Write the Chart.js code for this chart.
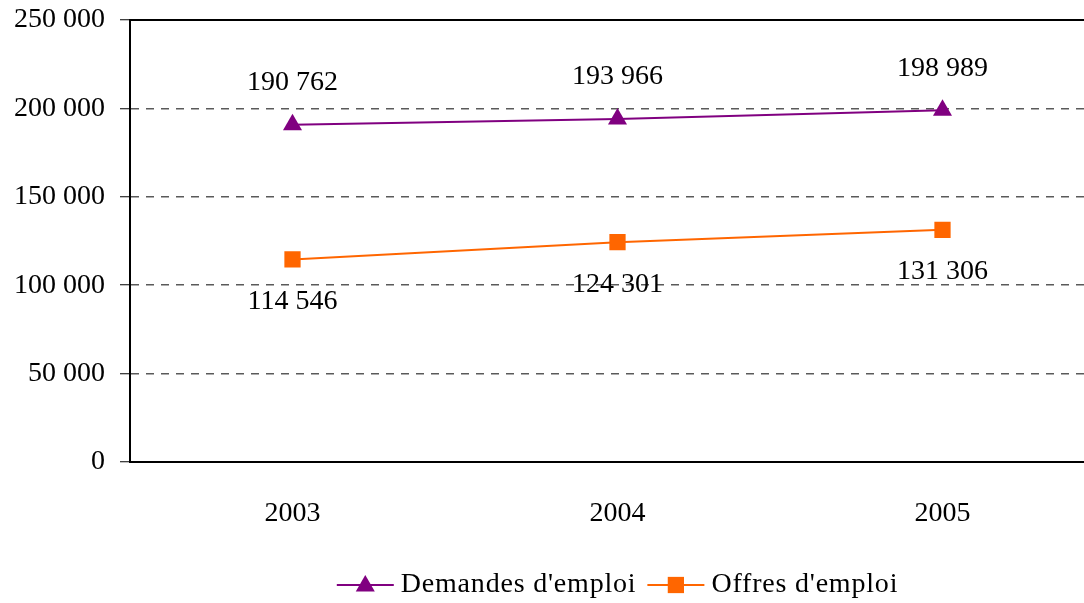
<!DOCTYPE html>
<html>
<head>
<meta charset="utf-8">
<script src="https://cdn.jsdelivr.net/npm/chart.js@4/dist/chart.umd.min.js"></script>
<style>
html,body{margin:0;padding:0;overflow:hidden;background:#fff;}
#wrap{width:1236px;height:603px;}
</style>
</head>
<body>
<div id="wrap"><canvas id="c" width="1236" height="603"></canvas></div>
<script>
const categories = ['2003', '2004', '2005'];
const demandes = [190762, 193966, 198989];
const offres = [114546, 124301, 131306];
const seriesNames = ["Demandes d'emploi", "Offres d'emploi"];
const yTicks = [0, 50000, 100000, 150000, 200000, 250000];

const FONT = '"Liberation Serif", "Times New Roman", serif';
const FS = 28;
const PURPLE = '#800080';
const ORANGE = '#FF6600';

function fmt(v) {
  return String(Math.round(v)).replace(/\B(?=(\d{3})+(?!\d))/g, ' ');
}

const labelPlugin = {
  id: 'valueLabels',
  afterDatasetsDraw(chart) {
    const ctx = chart.ctx;
    ctx.save();
    ctx.font = FS + 'px ' + FONT;
    ctx.fillStyle = '#000';
    ctx.textAlign = 'center';
    ctx.textBaseline = 'middle';
    chart.data.datasets.forEach((ds, i) => {
      const meta = chart.getDatasetMeta(i);
      meta.data.forEach((pt, j) => {
        const off = i === 0 ? -42 : 42;
        ctx.fillText(fmt(ds.data[j]), pt.x, pt.y + off);
      });
    });
    ctx.restore();
  }
};

const framePlugin = {
  id: 'frame',
  afterDraw(chart) {
    const ctx = chart.ctx;
    const a = chart.chartArea;
    ctx.save();
    ctx.strokeStyle = '#000';
    ctx.lineWidth = 2;
    ctx.beginPath();
    ctx.moveTo(a.left - 1, a.top);
    ctx.lineTo(a.right, a.top);
    ctx.stroke();
    ctx.restore();

    // legend
    ctx.save();
    ctx.font = FS + 'px ' + FONT;
    if ('letterSpacing' in ctx) ctx.letterSpacing = '0.8px';
    ctx.textBaseline = 'middle';
    ctx.textAlign = 'left';
    const y = 585;
    const lineW = 57, gap = 7, sep = 11;
    const items = chart.data.datasets.map(ds => ({
      text: ds.label, color: ds.borderColor, style: ds.pointStyle, w: ctx.measureText(ds.label).width
    }));
    let total = 0;
    items.forEach((it, k) => { total += lineW + gap + it.w + (k < items.length - 1 ? sep : 0); });
    let x = (a.left + a.right) / 2 - total / 2;
    items.forEach(it => {
      ctx.strokeStyle = it.color;
      ctx.lineWidth = 2;
      ctx.beginPath();
      ctx.moveTo(x, y);
      ctx.lineTo(x + lineW, y);
      ctx.stroke();
      ctx.fillStyle = it.color;
      const isTri = it.style === 'triangle';
      Chart.helpers.drawPoint(ctx, { pointStyle: it.style, rotation: 0, borderWidth: 0, radius: isTri ? 11 : 11.5 }, x + lineW / 2, y + (isTri ? 1 : 0));
      ctx.fillStyle = '#000';
      ctx.fillText(it.text, x + lineW + gap, y);
      x += lineW + gap + it.w + sep;
    });
    ctx.restore();
  }
};

new Chart(document.getElementById('c'), {
  type: 'line',
  data: {
    labels: categories,
    datasets: [
      {
        label: seriesNames[0],
        data: demandes,
        borderColor: PURPLE,
        backgroundColor: PURPLE,
        borderWidth: 2,
        pointStyle: 'triangle',
        pointRadius: 11,
        pointHoverRadius: 11,
        pointBorderWidth: 0,
        tension: 0
      },
      {
        label: seriesNames[1],
        data: offres,
        borderColor: ORANGE,
        backgroundColor: ORANGE,
        borderWidth: 2,
        pointStyle: 'rect',
        pointRadius: 11.5,
        pointHoverRadius: 11.5,
        pointBorderWidth: 0,
        tension: 0
      }
    ]
  },
  options: {
    responsive: false,
    animation: false,
    events: [],
    layout: { padding: { top: 20, right: 131, bottom: 0, left: 0 } },
    plugins: { legend: { display: false }, tooltip: { enabled: false } },
    scales: {
      x: {
        offset: true,
        grid: { display: false },
        border: { display: true, color: '#000', width: 2 },
        ticks: { color: '#000', font: { family: FONT, size: FS }, padding: 27, maxRotation: 0 },
        afterFit(s) { s.height = 141; s.paddingLeft = 0; s.paddingRight = 0; }
      },
      y: {
        min: 0,
        max: 250000,
        afterBuildTicks(s) { s.ticks = yTicks.map(v => ({ value: v })); },
        grid: {
          color: (c) => (c.tick && (c.tick.value === 0 || c.tick.value === 250000)) ? 'rgba(0,0,0,0)' : '#5a5a5a',
          lineWidth: 1.5,
          tickLength: 10,
          tickColor: '#000',
          tickBorderDash: [],
          tickWidth: 1
        },
        border: { display: true, color: '#000', width: 2, dash: [8, 7] },
        ticks: {
          color: '#000',
          font: { family: FONT, size: FS },
          padding: 15,
          callback: (v) => fmt(v)
        },
        afterFit(s) { s.width = 130; s.paddingTop = 0; s.paddingBottom = 0; }
      }
    }
  },
  plugins: [labelPlugin, framePlugin]
});
</script>
</body>
</html>
